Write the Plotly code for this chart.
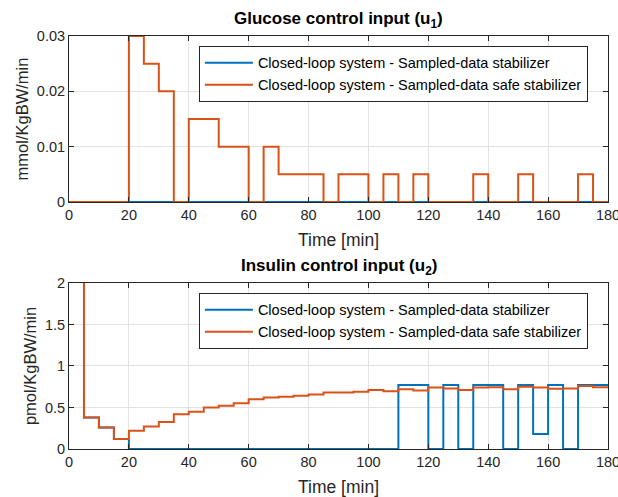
import plotly.graph_objects as go

# sample instants (min), 5-min sampling, last point closes the final step
t = list(range(0, 185, 5))

# Glucose control input u1 (mmol/KgBW/min), one value per 5-min interval
u1_stab = [0.0] * 36
u1_safe = [0, 0, 0, 0,
           0.03, 0.025, 0.02, 0,
           0.015, 0.015, 0.01, 0.01,
           0, 0.01, 0.005, 0.005, 0.005, 0,
           0.005, 0.005, 0, 0.005, 0, 0.005,
           0, 0, 0, 0.005, 0, 0,
           0.005, 0, 0, 0, 0.005, 0]

# Insulin control input u2 (pmol/KgBW/min)
u2_stab = [3.0, 0.38, 0.26, 0.12] + [0.0] * 18 + \
          [0.77, 0.77, 0, 0.77, 0, 0.77, 0.77, 0, 0.77, 0.18, 0.77, 0, 0.77, 0.77]
u2_safe = [3.0, 0.38, 0.26, 0.12, 0.22, 0.27, 0.325, 0.42, 0.45, 0.50,
           0.52, 0.55, 0.60, 0.62, 0.63, 0.64, 0.655, 0.68, 0.68, 0.69,
           0.71, 0.695, 0.72, 0.705, 0.74, 0.73, 0.71, 0.74, 0.745, 0.72,
           0.75, 0.74, 0.725, 0.73, 0.76, 0.745]

names = ["Closed-loop system - Sampled-data stabilizer",
         "Closed-loop system - Sampled-data safe stabilizer"]
x_ticks = list(range(0, 181, 20))
y1_ticks = [0, 0.01, 0.02, 0.03]
y2_ticks = [0, 0.5, 1, 1.5, 2]

BLUE = "#0072BD"
ORANGE = "#D95319"
AX = "#262626"
FONT = "Liberation Sans, Arial, Helvetica, sans-serif"

fig = go.Figure()

def ext(v):
    return list(v) + [v[-1]]

fig.add_trace(go.Scatter(x=t, y=ext(u1_stab), mode="lines", line_shape="hv",
                         line=dict(color=BLUE, width=2), name=names[0],
                         xaxis="x", yaxis="y", legend="legend"))
fig.add_trace(go.Scatter(x=t, y=ext(u1_safe), mode="lines", line_shape="hv",
                         line=dict(color=ORANGE, width=2), name=names[1],
                         xaxis="x", yaxis="y", legend="legend"))
fig.add_trace(go.Scatter(x=t, y=ext(u2_stab), mode="lines", line_shape="hv",
                         line=dict(color=BLUE, width=2), name=names[0],
                         xaxis="x2", yaxis="y2", legend="legend2"))
fig.add_trace(go.Scatter(x=t, y=ext(u2_safe), mode="lines", line_shape="hv",
                         line=dict(color=ORANGE, width=2), name=names[1],
                         xaxis="x2", yaxis="y2", legend="legend2"))

axis_common = dict(showline=True, linecolor=AX, linewidth=1, mirror="ticks",
                   ticks="inside", ticklen=5, tickcolor=AX, automargin=False,
                   showgrid=True, gridcolor="#E3E3E3", gridwidth=1,
                   zeroline=False, ticklabeloverflow="allow",
                   tickfont=dict(size=14.5, color=AX, family=FONT))

xa = dict(axis_common, range=[0, 180], tickvals=x_ticks,
          title=dict(text="Time [min]", font=dict(size=17.5, color=AX, family=FONT), standoff=11))

fig.update_layout(
    width=618, height=497,
    margin=dict(l=69, r=10, t=36, b=48),
    paper_bgcolor="white", plot_bgcolor="white",
    font=dict(family=FONT, color=AX),
    xaxis=dict(xa, domain=[0, 1], anchor="y"),
    yaxis=dict(axis_common, domain=[0.598, 1], anchor="x", range=[0, 0.03],
               tickvals=y1_ticks, ticktext=["0", "0.01", "0.02", "0.03"],
               title=dict(text="mmol/KgBW/min", font=dict(size=16.5, color=AX, family=FONT), standoff=4)),
    xaxis2=dict(xa, domain=[0, 1], anchor="y2"),
    yaxis2=dict(axis_common, domain=[0, 0.402], anchor="x2", range=[0, 2],
                tickvals=y2_ticks, ticktext=["0", "0.5", "1", "1.5", "2"],
                title=dict(text="pmol/KgBW/min", font=dict(size=16.5, color=AX, family=FONT), standoff=4)),
    legend=dict(x=0.241, y=0.976, xanchor="left", yanchor="top",
                bgcolor="white", bordercolor=AX, borderwidth=1,
                font=dict(size=14.5, color="black", family=FONT),
                itemwidth=48, tracegroupgap=0),
    legend2=dict(x=0.241, y=0.378, xanchor="left", yanchor="top",
                 bgcolor="white", bordercolor=AX, borderwidth=1,
                 font=dict(size=14.5, color="black", family=FONT),
                 itemwidth=48, tracegroupgap=0),
    annotations=[
        dict(text="<b>Glucose control input (u<sub>1</sub>)</b>", x=0.5, y=1, xref="paper", yref="paper",
             xanchor="center", yanchor="bottom", yshift=3, showarrow=False,
             font=dict(size=17, color="black", family=FONT)),
        dict(text="<b>Insulin control input (u<sub>2</sub>)</b>", x=0.5, y=0.402, xref="paper", yref="paper",
             xanchor="center", yanchor="bottom", yshift=3, showarrow=False,
             font=dict(size=17, color="black", family=FONT)),
    ],
)

fig.write_html("out.html", config={"displayModeBar": False},
               post_script="document.body.style.margin='0';document.body.style.overflow='hidden';")
